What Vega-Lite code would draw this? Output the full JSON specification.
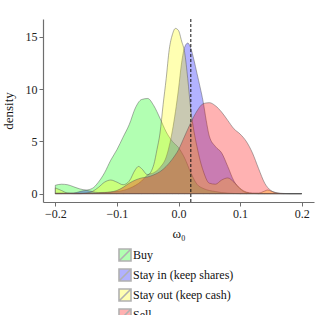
{
  "$schema": "https://vega.github.io/schema/vega-lite/v6.json",
  "width": 271,
  "height": 183,
  "autosize": {"type": "none"},
  "padding": {"left": 43, "top": 19, "right": 1, "bottom": 113},
  "background": "white",
  "config": {
    "font": "Liberation Serif",
    "view": {"stroke": null},
    "axis": {"grid": false, "domainColor": "#6e6e6e", "domainWidth": 1.2, "tickColor": "#6e6e6e", "tickSize": 4, "labelColor": "#222", "labelFontSize": 12, "titleFontSize": 13, "titleFontWeight": "normal", "titleColor": "#111", "labelFont": "Liberation Serif", "titleFont": "Liberation Serif"}
  },
  "datasets": {
    "dens": [
      {"g": "Buy", "x": -0.2, "d": 0.8}, {"g": "Buy", "x": -0.19, "d": 0.9}, {"g": "Buy", "x": -0.18, "d": 0.85}, {"g": "Buy", "x": -0.17, "d": 0.65}, {"g": "Buy", "x": -0.16, "d": 0.45}, {"g": "Buy", "x": -0.15, "d": 0.35}, {"g": "Buy", "x": -0.14, "d": 0.5}, {"g": "Buy", "x": -0.13, "d": 1.1}, {"g": "Buy", "x": -0.12, "d": 2.0}, {"g": "Buy", "x": -0.11, "d": 3.2}, {"g": "Buy", "x": -0.1, "d": 4.2}, {"g": "Buy", "x": -0.09, "d": 5.4}, {"g": "Buy", "x": -0.08, "d": 6.6}, {"g": "Buy", "x": -0.07, "d": 8.2}, {"g": "Buy", "x": -0.06, "d": 9.0}, {"g": "Buy", "x": -0.05, "d": 9.1}, {"g": "Buy", "x": -0.04, "d": 8.4}, {"g": "Buy", "x": -0.03, "d": 7.2}, {"g": "Buy", "x": -0.02, "d": 5.9}, {"g": "Buy", "x": -0.01, "d": 5.0}, {"g": "Buy", "x": 0.0, "d": 4.4}, {"g": "Buy", "x": 0.01, "d": 3.4}, {"g": "Buy", "x": 0.02, "d": 2.0}, {"g": "Buy", "x": 0.03, "d": 0.9}, {"g": "Buy", "x": 0.04, "d": 0.5}, {"g": "Buy", "x": 0.05, "d": 0.3}, {"g": "Buy", "x": 0.06, "d": 0.2}, {"g": "Buy", "x": 0.07, "d": 0.1}, {"g": "Buy", "x": 0.08, "d": 0.05}, {"g": "Buy", "x": 0.1, "d": 0.0}, {"g": "Buy", "x": 0.2, "d": 0.0},
      {"g": "Stay in (keep shares)", "x": -0.2, "d": 0.0}, {"g": "Stay in (keep shares)", "x": -0.17, "d": 0.05}, {"g": "Stay in (keep shares)", "x": -0.16, "d": 0.2}, {"g": "Stay in (keep shares)", "x": -0.15, "d": 0.3}, {"g": "Stay in (keep shares)", "x": -0.14, "d": 0.2}, {"g": "Stay in (keep shares)", "x": -0.13, "d": 0.1}, {"g": "Stay in (keep shares)", "x": -0.1, "d": 0.2}, {"g": "Stay in (keep shares)", "x": -0.08, "d": 0.5}, {"g": "Stay in (keep shares)", "x": -0.06, "d": 1.2}, {"g": "Stay in (keep shares)", "x": -0.05, "d": 1.8}, {"g": "Stay in (keep shares)", "x": -0.04, "d": 2.0}, {"g": "Stay in (keep shares)", "x": -0.03, "d": 2.5}, {"g": "Stay in (keep shares)", "x": -0.02, "d": 3.5}, {"g": "Stay in (keep shares)", "x": -0.01, "d": 6.0}, {"g": "Stay in (keep shares)", "x": 0.0, "d": 10.0}, {"g": "Stay in (keep shares)", "x": 0.005, "d": 12.5}, {"g": "Stay in (keep shares)", "x": 0.01, "d": 14.0}, {"g": "Stay in (keep shares)", "x": 0.015, "d": 14.4}, {"g": "Stay in (keep shares)", "x": 0.02, "d": 13.9}, {"g": "Stay in (keep shares)", "x": 0.025, "d": 12.8}, {"g": "Stay in (keep shares)", "x": 0.03, "d": 11.5}, {"g": "Stay in (keep shares)", "x": 0.035, "d": 10.2}, {"g": "Stay in (keep shares)", "x": 0.04, "d": 8.8}, {"g": "Stay in (keep shares)", "x": 0.045, "d": 7.0}, {"g": "Stay in (keep shares)", "x": 0.05, "d": 5.5}, {"g": "Stay in (keep shares)", "x": 0.06, "d": 4.5}, {"g": "Stay in (keep shares)", "x": 0.07, "d": 3.9}, {"g": "Stay in (keep shares)", "x": 0.08, "d": 2.6}, {"g": "Stay in (keep shares)", "x": 0.09, "d": 1.2}, {"g": "Stay in (keep shares)", "x": 0.1, "d": 0.45}, {"g": "Stay in (keep shares)", "x": 0.11, "d": 0.1}, {"g": "Stay in (keep shares)", "x": 0.12, "d": 0.02}, {"g": "Stay in (keep shares)", "x": 0.13, "d": 0.0}, {"g": "Stay in (keep shares)", "x": 0.2, "d": 0.0},
      {"g": "Stay out (keep cash)", "x": -0.2, "d": 0.55}, {"g": "Stay out (keep cash)", "x": -0.19, "d": 0.3}, {"g": "Stay out (keep cash)", "x": -0.18, "d": 0.05}, {"g": "Stay out (keep cash)", "x": -0.17, "d": 0.0}, {"g": "Stay out (keep cash)", "x": -0.16, "d": 0.0}, {"g": "Stay out (keep cash)", "x": -0.15, "d": 0.05}, {"g": "Stay out (keep cash)", "x": -0.14, "d": 0.2}, {"g": "Stay out (keep cash)", "x": -0.13, "d": 0.6}, {"g": "Stay out (keep cash)", "x": -0.12, "d": 1.1}, {"g": "Stay out (keep cash)", "x": -0.11, "d": 1.3}, {"g": "Stay out (keep cash)", "x": -0.1, "d": 1.1}, {"g": "Stay out (keep cash)", "x": -0.09, "d": 0.85}, {"g": "Stay out (keep cash)", "x": -0.08, "d": 1.2}, {"g": "Stay out (keep cash)", "x": -0.07, "d": 2.3}, {"g": "Stay out (keep cash)", "x": -0.065, "d": 2.6}, {"g": "Stay out (keep cash)", "x": -0.06, "d": 2.4}, {"g": "Stay out (keep cash)", "x": -0.05, "d": 1.8}, {"g": "Stay out (keep cash)", "x": -0.04, "d": 2.8}, {"g": "Stay out (keep cash)", "x": -0.035, "d": 4.2}, {"g": "Stay out (keep cash)", "x": -0.03, "d": 5.8}, {"g": "Stay out (keep cash)", "x": -0.025, "d": 8.5}, {"g": "Stay out (keep cash)", "x": -0.02, "d": 11.0}, {"g": "Stay out (keep cash)", "x": -0.015, "d": 13.8}, {"g": "Stay out (keep cash)", "x": -0.01, "d": 15.2}, {"g": "Stay out (keep cash)", "x": -0.005, "d": 15.8}, {"g": "Stay out (keep cash)", "x": 0.0, "d": 15.6}, {"g": "Stay out (keep cash)", "x": 0.005, "d": 14.6}, {"g": "Stay out (keep cash)", "x": 0.01, "d": 13.5}, {"g": "Stay out (keep cash)", "x": 0.015, "d": 11.0}, {"g": "Stay out (keep cash)", "x": 0.02, "d": 8.0}, {"g": "Stay out (keep cash)", "x": 0.025, "d": 6.0}, {"g": "Stay out (keep cash)", "x": 0.03, "d": 4.5}, {"g": "Stay out (keep cash)", "x": 0.035, "d": 3.2}, {"g": "Stay out (keep cash)", "x": 0.04, "d": 2.2}, {"g": "Stay out (keep cash)", "x": 0.05, "d": 1.0}, {"g": "Stay out (keep cash)", "x": 0.06, "d": 0.9}, {"g": "Stay out (keep cash)", "x": 0.07, "d": 1.3}, {"g": "Stay out (keep cash)", "x": 0.08, "d": 1.5}, {"g": "Stay out (keep cash)", "x": 0.09, "d": 1.1}, {"g": "Stay out (keep cash)", "x": 0.1, "d": 0.5}, {"g": "Stay out (keep cash)", "x": 0.11, "d": 0.15}, {"g": "Stay out (keep cash)", "x": 0.12, "d": 0.05}, {"g": "Stay out (keep cash)", "x": 0.13, "d": 0.05}, {"g": "Stay out (keep cash)", "x": 0.14, "d": 0.25}, {"g": "Stay out (keep cash)", "x": 0.145, "d": 0.35}, {"g": "Stay out (keep cash)", "x": 0.15, "d": 0.25}, {"g": "Stay out (keep cash)", "x": 0.16, "d": 0.05}, {"g": "Stay out (keep cash)", "x": 0.17, "d": 0.0}, {"g": "Stay out (keep cash)", "x": 0.2, "d": 0.0},
      {"g": "Sell", "x": -0.2, "d": 0.05}, {"g": "Sell", "x": -0.15, "d": 0.05}, {"g": "Sell", "x": -0.12, "d": 0.1}, {"g": "Sell", "x": -0.1, "d": 0.3}, {"g": "Sell", "x": -0.09, "d": 0.6}, {"g": "Sell", "x": -0.08, "d": 1.0}, {"g": "Sell", "x": -0.07, "d": 1.3}, {"g": "Sell", "x": -0.06, "d": 1.5}, {"g": "Sell", "x": -0.05, "d": 1.6}, {"g": "Sell", "x": -0.04, "d": 1.8}, {"g": "Sell", "x": -0.03, "d": 2.1}, {"g": "Sell", "x": -0.02, "d": 2.6}, {"g": "Sell", "x": -0.01, "d": 3.3}, {"g": "Sell", "x": 0.0, "d": 4.2}, {"g": "Sell", "x": 0.01, "d": 5.5}, {"g": "Sell", "x": 0.02, "d": 6.8}, {"g": "Sell", "x": 0.03, "d": 7.9}, {"g": "Sell", "x": 0.04, "d": 8.6}, {"g": "Sell", "x": 0.05, "d": 8.7}, {"g": "Sell", "x": 0.06, "d": 8.4}, {"g": "Sell", "x": 0.07, "d": 7.8}, {"g": "Sell", "x": 0.08, "d": 7.0}, {"g": "Sell", "x": 0.09, "d": 6.2}, {"g": "Sell", "x": 0.1, "d": 5.7}, {"g": "Sell", "x": 0.11, "d": 5.0}, {"g": "Sell", "x": 0.12, "d": 3.9}, {"g": "Sell", "x": 0.13, "d": 2.4}, {"g": "Sell", "x": 0.14, "d": 1.0}, {"g": "Sell", "x": 0.15, "d": 0.3}, {"g": "Sell", "x": 0.16, "d": 0.08}, {"g": "Sell", "x": 0.17, "d": 0.02}, {"g": "Sell", "x": 0.18, "d": 0.0}, {"g": "Sell", "x": 0.2, "d": 0.0}
    ],
    "mark": [{"x": 0.02}]
  },
  "layer": [
    {
      "data": {"name": "dens"},
      "mark": {"type": "area", "interpolate": "monotone", "fillOpacity": 0.3, "stroke": "#555", "strokeOpacity": 0.6, "strokeWidth": 0.8},
      "encoding": {
        "x": {"field": "x", "type": "quantitative", "scale": {"domain": [-0.22, 0.22], "nice": false, "zero": false}, "axis": {"values": [-0.2, -0.1, 0, 0.1, 0.2], "format": ".1f", "title": "ω₀", "titlePadding": 8, "labelPadding": 2}},
        "y": {"field": "d", "type": "quantitative", "stack": null, "scale": {"domain": [-0.8, 16.7], "nice": false, "zero": false}, "axis": {"values": [0, 5, 10, 15], "title": "density", "titlePadding": 10, "labelPadding": 2}},
        "color": {"field": "g", "type": "nominal", "scale": {"domain": ["Buy", "Stay in (keep shares)", "Stay out (keep cash)", "Sell"], "range": ["#00ff00", "#0000ff", "#ffff00", "#ff0000"]},
          "legend": {"title": null, "orient": "none", "legendX": 75, "legendY": 229, "symbolType": "M-1,-1H1V1H-1Z M-1,1L1,-1", "symbolSize": 144, "symbolOpacity": 0.3, "symbolStrokeColor": "#000", "symbolStrokeWidth": 1.6, "rowPadding": 0, "labelFontSize": 12, "labelColor": "#111", "labelOffset": 1, "labelFont": "Liberation Serif"}}
      }
    },
    {
      "data": {"name": "mark"},
      "mark": {"type": "rule", "strokeDash": [3, 2], "color": "#111", "strokeWidth": 1},
      "encoding": {"x": {"field": "x", "type": "quantitative"}}
    }
  ]
}
